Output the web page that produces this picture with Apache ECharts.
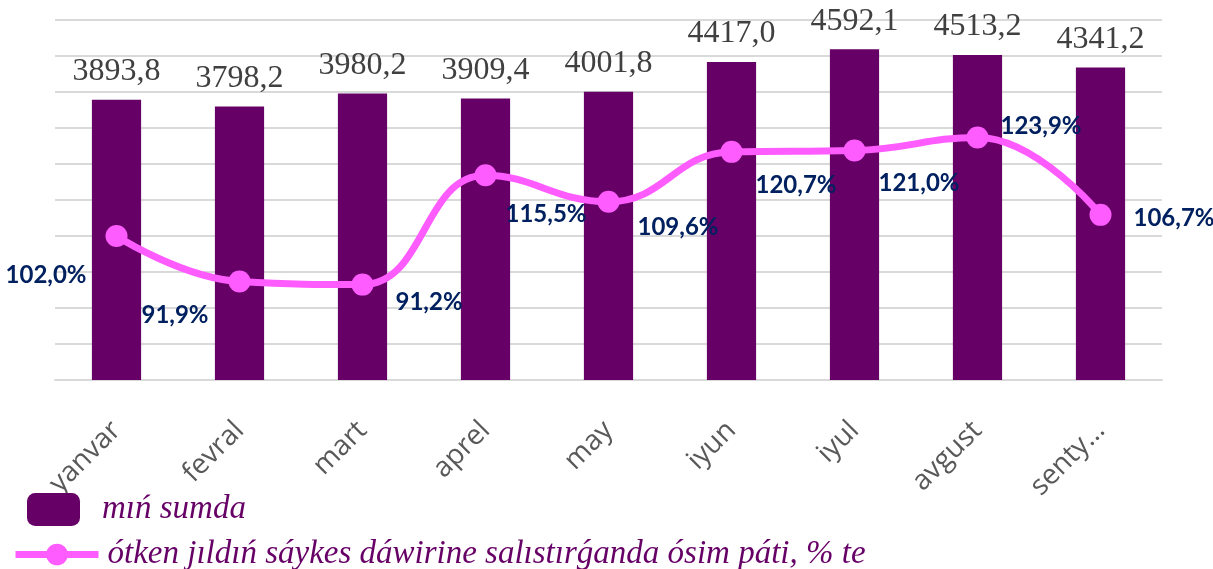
<!DOCTYPE html>
<html>
<head>
<meta charset="utf-8">
<script src="https://cdn.jsdelivr.net/npm/echarts@6/dist/echarts.min.js"></script>
<style>
  html, body { margin: 0; padding: 0; background: #fff; }
  #chart { width: 1213px; height: 569px; }
</style>
</head>
<body>
<div id="chart"></div>
<script>
  /* ========== 数据 ========== */
  const months = ["yanvar", "fevral", "mart", "aprel", "may", "iyun", "iyul", "avgust", "senty…"];
  const sumValues = [3893.8, 3798.2, 3980.2, 3909.4, 4001.8, 4417.0, 4592.1, 4513.2, 4341.2];
  const growthPct = [102.0, 91.9, 91.2, 115.5, 109.6, 120.7, 121.0, 123.9, 106.7];

  const barName = "mıń sumda";
  const lineName = "ótken jıldıń sáykes dáwirine salıstırǵanda ósim páti, % te";

  // 折线标签摆放：[dx, dy, 对齐]
  const pctLabelPlace = [
    [-30, 39, "right"],
    [-31, 34, "right"],
    [33, 18, "left"],
    [20, 39, "left"],
    [29, 25, "left"],
    [24, 33, "left"],
    [24, 33, "left"],
    [23, -11, "left"],
    [33, 3, "left"],
  ];

  const fmt = (v) => v.toFixed(1).replace(".", ",");

  const chart = echarts.init(document.getElementById("chart"), null, { renderer: "canvas" });

  chart.setOption({
    animation: false,
    backgroundColor: "#fff",
    grid: { left: 55, right: 51, top: 20, bottom: 189, containLabel: false, outerBoundsMode: "none" },
    legend: [
      {
        data: [{ name: barName, icon: "roundRect" }],
        left: 27,
        top: 493,
        padding: 0,
        itemWidth: 53,
        itemHeight: 33,
        selectedMode: false,
        textStyle: {
          fontFamily: "Liberation Serif",
          fontStyle: "italic",
          fontSize: 33,
          color: "#660066",
          padding: [0, 0, 0, 17],
        },
      },
      {
        data: [lineName],
        left: 12,
        top: 538,
        padding: 0,
        itemWidth: 83,
        itemHeight: 27,
        selectedMode: false,
        lineStyle: { width: 7 },
        textStyle: {
          fontFamily: "Liberation Serif",
          fontStyle: "italic",
          fontSize: 33,
          color: "#660066",
          padding: [0, 0, 0, 4],
        },
      },
    ],
    xAxis: {
      type: "category",
      data: months,
      axisTick: { show: false },
      axisLine: { lineStyle: { color: "#d9d9d9", width: 2 } },
      axisLabel: {
        rotate: 45,
        margin: 46,
        interval: 0,
        fontFamily: "Open Sans",
        fontSize: 28,
        color: "#595959",
      },
    },
    yAxis: [
      {
        type: "value",
        min: 0,
        max: 5000,
        interval: 500,
        axisLabel: { show: false },
        axisLine: { show: false },
        axisTick: { show: false },
        splitLine: { lineStyle: { color: "#d9d9d9", width: 2 } },
      },
      {
        type: "value",
        min: 70,
        max: 150,
        interval: 10,
        show: false,
        splitLine: { show: false },
      },
    ],
    series: [
      {
        name: barName,
        type: "bar",
        data: sumValues,
        barWidth: "40%",
        itemStyle: { color: "#660066" },
        label: {
          show: true,
          position: "top",
          distance: 12,
          formatter: (p) => fmt(p.value),
          fontFamily: "Liberation Serif",
          fontSize: 32,
          color: "#404040",
        },
      },
      {
        name: lineName,
        type: "line",
        yAxisIndex: 1,
        smooth: 0.45,
        symbol: "circle",
        symbolSize: 22,
        lineStyle: { color: "#ff5cff", width: 7 },
        itemStyle: { color: "#ff5cff" },
        data: growthPct.map((v, i) => ({
          value: v,
          label: {
            show: true,
            position: "inside",
            align: pctLabelPlace[i][2],
            verticalAlign: "middle",
            offset: [pctLabelPlace[i][0], pctLabelPlace[i][1]],
          },
        })),
        label: {
          formatter: (p) => fmt(p.value) + "%",
          fontFamily: "Lato",
          fontWeight: "bold",
          fontSize: 24,
          color: "#002060",
        },
        z: 3,
      },
    ],
  });
</script>
</body>
</html>
